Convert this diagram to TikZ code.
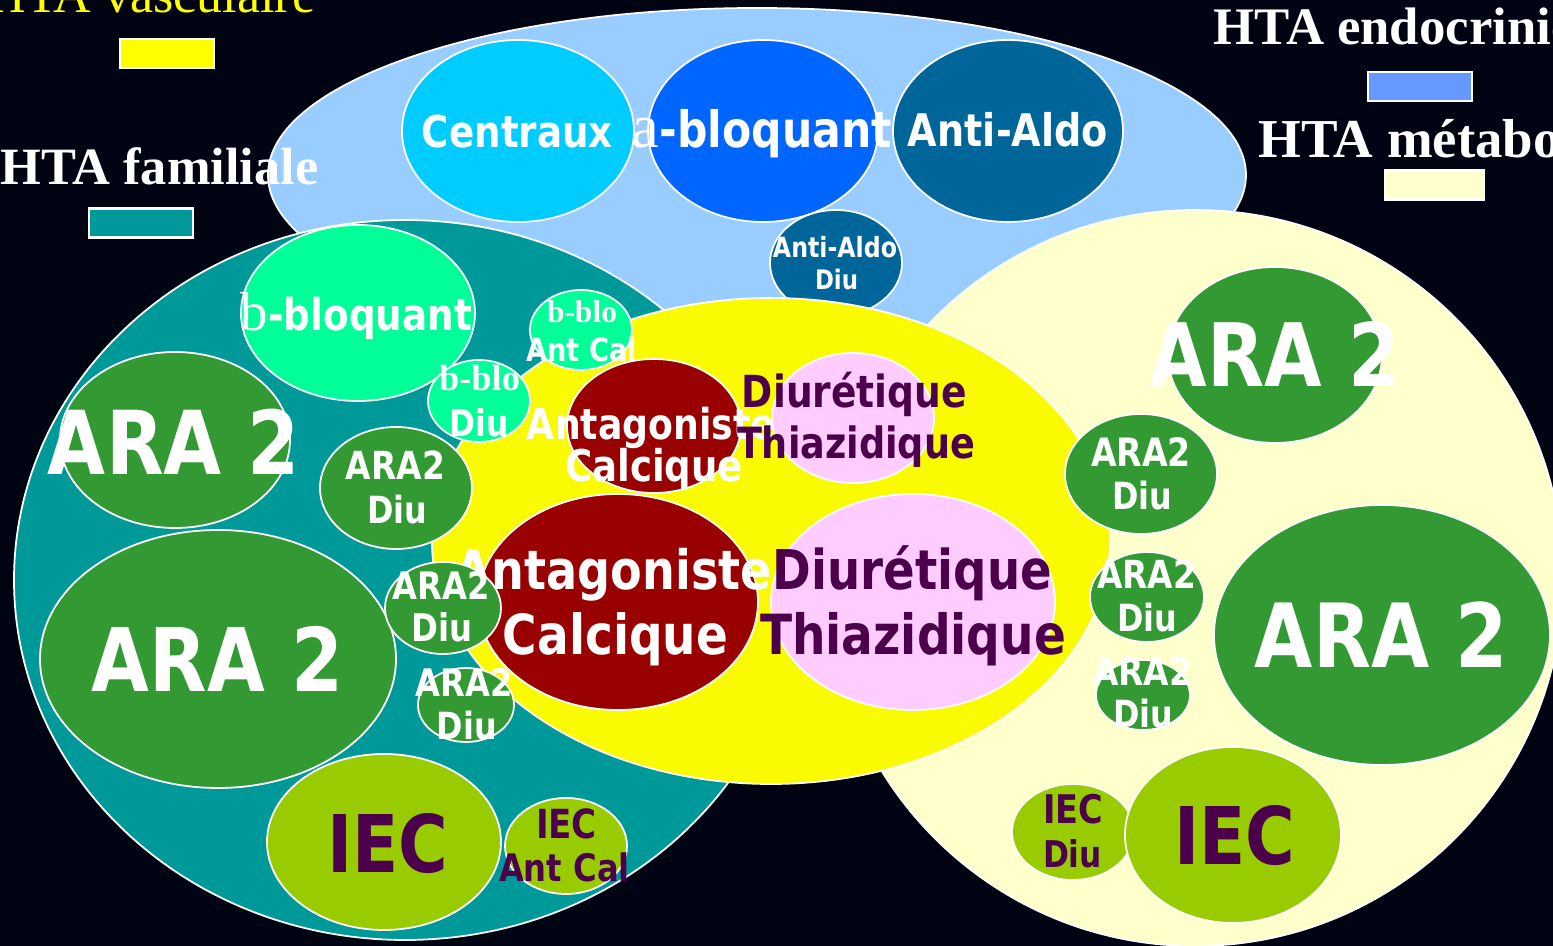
\documentclass[tikz,border=0pt]{standalone}
\usepackage{fontspec}
\usepackage{graphicx}
\setmainfont{Liberation Serif}
\newfontfamily\dvs[FakeStretch=0.85]{DejaVu Sans}
\newlength\pxu \setlength\pxu{0.01cm}
\newcommand\fw[2]{\resizebox{#1\pxu}{!}{#2}}
\newcommand\serl[1]{{\rmfamily\mdseries\fontsize{12.5pt}{12.5pt}\selectfont #1}}
\definecolor{bgc}{RGB}{0,4,18}
\definecolor{lblue}{RGB}{153,204,255}
\definecolor{cyanc}{RGB}{0,204,255}
\definecolor{bluec}{RGB}{0,102,255}
\definecolor{aldoc}{RGB}{0,102,153}
\definecolor{tealc}{RGB}{0,153,153}
\definecolor{creamc}{RGB}{255,255,204}
\definecolor{yell}{RGB}{250,250,0}
\definecolor{darkred}{RGB}{153,0,0}
\definecolor{pinkc}{RGB}{255,204,255}
\definecolor{lgreen}{RGB}{0,255,153}
\definecolor{greenc}{RGB}{51,153,51}
\definecolor{limec}{RGB}{153,204,0}
\definecolor{purp}{RGB}{76,0,76}
\definecolor{legblue}{RGB}{102,153,255}
\definecolor{legyell}{RGB}{255,255,0}
\newcommand\bub[5]{\fill[#1,draw=white,line width=0.5pt] (#2,#3) ellipse [x radius=#4, y radius=#5];}
\tikzset{
  txt/.style={anchor=base, inner sep=0pt, outer sep=0pt, text=white, font=\dvs\bfseries},
  ptxt/.style={txt, text=purp},
  legt/.style={anchor=base west, inner sep=0pt, text=white, font=\bfseries\fontsize{15pt}{18pt}\selectfont},
  legbox/.style={draw=white, line width=0.6pt, inner sep=0pt, minimum width=#1*0.01cm, minimum height=0.29cm},
}
\begin{document}
\begin{tikzpicture}[x=0.01cm,y=-0.01cm]
\useasboundingbox (0,0) rectangle (1553,946);
\fill[bgc] (0,0) rectangle (1553,946);

% endocrine group
\bub{lblue}{757}{175}{489}{167}
\bub{cyanc}{518}{131}{116}{91}
\bub{bluec}{763}{131}{115}{91}
\bub{aldoc}{1008}{131}{115}{91}
\bub{aldoc}{836}{263}{66}{53}
\node[txt] (tCentraux) at (517.5,148) {\fw{191}{Centraux}};
\node[txt] (tAbloq) at (762,148) {\fw{260}{\serl{a}-bloquant}};
\node[txt] (tAldo) at (1008,147) {\fw{200}{Anti-Aldo}};
\node[txt] (tAldoD1) at (835,258) {\fw{124}{Anti-Aldo}};
\node[txt] (tAldoD2) at (836.5,290) {\fw{43}{Diu}};

% big ellipses
\bub{tealc}{405}{580}{391}{360}
\bub{creamc}{1195}{578}{368}{368}
\bub{yell}{771}{541}{339}{243}

% vascular group
\bub{darkred}{654}{426}{87}{67}
\bub{pinkc}{853}{418}{81}{65}
\bub{darkred}{618}{602}{140}{108}
\bub{pinkc}{913}{602}{142}{108}
\node[txt] (tAnt1) at (651,440) {\fw{248}{Antagoniste}};
\node[txt] (tCal1) at (654,482) {\fw{178}{Calcique}};
\node[ptxt] (tDiu1) at (854.5,408) {\fw{225}{Diurétique}};
\node[ptxt] (tThi1) at (856,459) {\fw{238}{Thiazidique}};
\node[txt] (tAnt2) at (614,590) {\fw{316}{Antagoniste}};
\node[txt] (tCal2) at (615.5,655) {\fw{225}{Calcique}};
\node[ptxt] (tDiu2) at (912.5,590) {\fw{279}{Diurétique}};
\node[ptxt] (tThi2) at (913,655) {\fw{306}{Thiazidique}};

% familial group
\bub{lgreen}{358}{313}{117}{88}
\bub{lgreen}{581}{330}{51}{40}
\bub{lgreen}{479}{401}{51}{41}
\bub{greenc}{175}{440}{115}{88}
\bub{greenc}{396}{488}{76}{61}
\bub{greenc}{218}{659}{178}{129}
\bub{greenc}{443}{608}{58}{46}
\bub{greenc}{466}{705}{48}{37}
\bub{limec}{384}{842}{117}{88}
\bub{limec}{566}{846}{61}{48}
\node[txt] (tBbloq) at (356.5,331) {\fw{231}{\serl{b}-bloquant}};
\node[txt] (tBblo1) at (582,323) {\fw{70}{\rmfamily\bfseries b-blo}};
\node[txt] (tAntCal1) at (581.5,362) {\fw{111}{Ant Cal}};
\node[txt] (tBblo2) at (479.5,391) {\fw{81}{\rmfamily\bfseries b-blo}};
\node[txt] (tDiuB) at (479.5,437) {\fw{59}{Diu}};
\node[txt] (tARAa) at (174,475) {\fw{252}{ARA 2}};
\node[txt] (tARAb1) at (395.5,480) {\fw{99}{ARA2}};
\node[txt] (tARAb2) at (397,524) {\fw{60}{Diu}};
\node[txt] (tARAc) at (217.5,692) {\fw{251}{ARA 2}};
\node[txt] (tARAd1) at (441.5,600) {\fw{97}{ARA2}};
\node[txt] (tARAd2) at (442.5,642) {\fw{61}{Diu}};
\node[txt] (tARAe1) at (464.5,697) {\fw{97}{ARA2}};
\node[txt] (tARAe2) at (467,740) {\fw{60}{Diu}};
\node[ptxt] (tIECa) at (387.5,873) {\fw{121}{IEC}};
\node[ptxt] (tIECb1) at (566.5,839) {\fw{61}{IEC}};
\node[ptxt] (tIECb2) at (564.5,882) {\fw{131}{Ant Cal}};

% metabolic group
\bub{greenc}{1275}{355}{107}{88}
\bub{greenc}{1141}{474}{76}{60}
\bub{greenc}{1147}{597}{57}{45}
\bub{greenc}{1143}{695}{47}{35}
\bub{greenc}{1382}{635}{168}{130}
\bub{limec}{1073}{832}{61}{48}
\bub{limec}{1233}{835}{108}{88}
\node[txt] (tARAf) at (1275,387) {\fw{250}{ARA 2}};
\node[txt] (tARAg1) at (1141,467) {\fw{100}{ARA2}};
\node[txt] (tARAg2) at (1142,510) {\fw{60}{Diu}};
\node[txt] (tARAh1) at (1146.5,589) {\fw{99}{ARA2}};
\node[txt] (tARAh2) at (1147,632) {\fw{60}{Diu}};
\node[txt] (tARAi1) at (1142.5,686) {\fw{99}{ARA2}};
\node[txt] (tARAi2) at (1143,728) {\fw{60}{Diu}};
\node[txt] (tARAj) at (1381.5,668) {\fw{253}{ARA 2}};
\node[ptxt] (tIECc1) at (1073,824) {\fw{60}{IEC}};
\node[ptxt] (tIECc2) at (1072.5,868) {\fw{59}{Diu}};
\node[ptxt] (tIECd) at (1234.5,865) {\fw{121}{IEC}};

% legend
\node[anchor=base east, inner sep=0pt, text=legyell, font=\fontsize{14.8pt}{17pt}\selectfont] (lv) at (316,13) {HTA vasculaire};
\node[legbox=94, fill=legyell] (bv) at (167,53.5) {};
\node[legt, font=\bfseries\fontsize{14.9pt}{17pt}\selectfont] (lf) at (0,185) {HTA familiale};
\node[legbox=104, fill=tealc] (bf) at (141,223) {};
\node[legt] (le) at (1213,45) {HTA endocrinienne};
\node[legbox=104, fill=legblue] (be) at (1420,86.5) {};
\node[legt, font=\bfseries\fontsize{15.6pt}{18pt}\selectfont] (lm) at (1258,158) {HTA métabolique};
\node[legbox=99, fill=creamc] (bm) at (1434.5,185) {};
\end{tikzpicture}
\end{document}
